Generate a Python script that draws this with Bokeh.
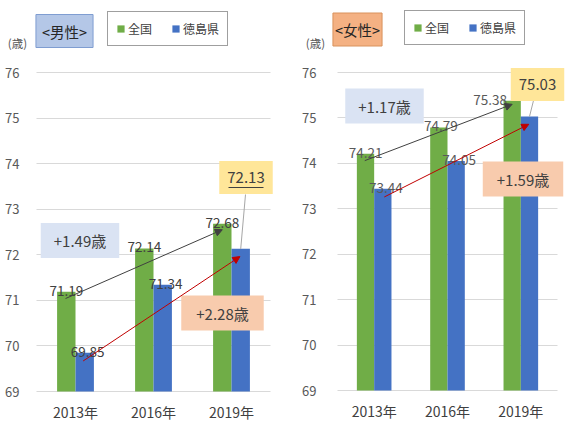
from bokeh.plotting import figure
from bokeh.layouts import row
from bokeh.models import Label, Legend, LegendItem, Arrow, NormalHead, FixedTicker, Range1d
from bokeh.core.properties import value
from bokeh.embed import file_html
from bokeh.resources import INLINE

# ---------------- data ----------------
years = ["2013年", "2016年", "2019年"]
male_national = [71.19, 72.14, 72.68]
male_tokushima = [69.85, 71.34, 72.13]
female_national = [74.21, 74.79, 75.38]
female_tokushima = [73.44, 74.05, 75.03]
y_ticks = [69, 70, 71, 72, 73, 74, 75, 76]
series_names = ["全国", "徳島県"]
unit_text = "(歳)"

# ---------------- style ----------------
FONT = "Noto Sans CJK JP"
GREEN = "#70ad47"
BLUE = "#4472c4"
BW = 0.236
Y_MIN, Y_MAX = 69, 76
PAGE_H = 423


def gain(vals):
    return f"+{vals[-1] - vals[0]:.2f}歳"


def make_panel(nat, tok, header, header_fill, header_line, geo, ann, label_color, nat_dx, ystand):
    left, width, fx0, fx1, fyt, fy69 = geo
    ppu = (fy69 - fyt) / (Y_MAX - Y_MIN)
    pxu = (fx1 - fx0) / 3.0

    def X(px):
        return -0.5 + (px - fx0) / pxu

    def Y(py):
        return Y_MAX - (py - fyt) / ppu

    p = figure(width=width, height=PAGE_H, output_backend="svg", toolbar_location=None,
               x_range=Range1d(X(left), X(left + width)), y_range=Range1d(Y(PAGE_H), Y(0)),
               min_border_left=0, min_border_right=0, min_border_top=0, min_border_bottom=0)
    p.outline_line_color = None
    p.background_fill_color = "white"
    p.border_fill_color = "white"
    p.xgrid.grid_line_color = None
    p.ygrid.grid_line_color = "#d9d9d9"
    p.ygrid.grid_line_width = 1
    p.ygrid.cross_bounds = (-0.5, 2.5)

    p.yaxis.ticker = FixedTicker(ticks=y_ticks)
    p.yaxis.fixed_location = -0.5
    p.yaxis.axis_line_color = None
    p.yaxis.major_tick_line_color = None
    p.yaxis.minor_tick_line_color = None
    p.yaxis.major_label_standoff = ystand
    p.yaxis.major_label_text_font = FONT
    p.yaxis.major_label_text_font_size = "13px"
    p.yaxis.major_label_text_color = "#595959"

    xs = list(range(len(years)))
    p.xaxis.ticker = FixedTicker(ticks=xs)
    p.xaxis.major_label_overrides = {i: years[i] for i in xs}
    p.xaxis.fixed_location = Y_MIN
    p.xaxis.axis_line_color = None
    p.xaxis.major_tick_line_color = None
    p.xaxis.minor_tick_line_color = None
    p.xaxis.major_label_standoff = 4
    p.xaxis.major_label_text_font = FONT
    p.xaxis.major_label_text_font_size = "14px"
    p.xaxis.major_label_text_color = "#404040"

    gx = [i - BW / 2 for i in xs]
    bx = [i + BW / 2 for i in xs]
    g = p.vbar(x=gx, top=nat, bottom=Y_MIN, width=BW, fill_color=GREEN, line_color=None)
    b = p.vbar(x=bx, top=tok, bottom=Y_MIN, width=BW, fill_color=BLUE, line_color=None)

    # data labels
    p.text(x=gx, y=nat, text=[f"{v:.2f}" for v in nat], x_offset=nat_dx, y_offset=-1,
           text_align="center", text_baseline="alphabetic", text_font=value(FONT),
           text_font_size="13.5px", text_color=label_color)
    p.text(x=bx[:-1], y=tok[:-1], text=[f"{v:.2f}" for v in tok[:-1]], x_offset=3, y_offset=-1,
           text_align="center", text_baseline="alphabetic", text_font=value(FONT),
           text_font_size="13.5px", text_color=label_color)

    # leader line from callout box to last prefectural bar
    p.segment(x0=[X(ann["leader"][0])], y0=[Y(ann["leader"][1])], x1=[bx[-1]], y1=[tok[-1]],
              line_color="#a6a6a6", line_width=1)

    def box(cx, cy, text, fill, size, px, py, line=None, color="#404040"):
        p.add_layout(Label(x=X(cx), y=Y(cy), text=text, text_align="center",
                           text_baseline="middle", text_font=FONT,
                           text_font_size=f"{size}px", text_color=color,
                           background_fill_color=fill, border_line_color=line,
                           padding=dict(left=px, right=px, top=py, bottom=py)))

    box(*ann["header"], header, header_fill, 14.5, ann["header_pad"], 6, line=header_line, color="#262626")
    p.add_layout(Label(x=X(ann["unit"][0]), y=Y(ann["unit"][1]), text=unit_text,
                       text_align="center", text_baseline="middle", text_font=FONT,
                       text_font_size="11.5px", text_color="#595959"))
    box(*ann["nat_box"], gain(nat), "#dae3f3", 15, ann["nat_pad"], 7)
    box(*ann["tok_box"], gain(tok), "#f8cbad", 15, ann["tok_pad"], 7)
    box(*ann["callout"], f"{tok[-1]:.2f}", "#ffe699", 15, 8, 11)

    if ann.get("underline"):
        ux0, ux1, uy = ann["underline"]
        p.add_layout(Arrow(x_start=X(ux0), y_start=Y(uy), x_end=X(ux1), y_end=Y(uy),
                           end=None, line_color="#404040", line_width=1))

    # trend arrows
    p.add_layout(Arrow(x_start=gx[0] - 0.01, y_start=nat[0] - 0.15,
                       x_end=gx[-1], y_end=nat[-1] - ann["nat_end_dy"],
                       line_color="#404040", line_width=1,
                       end=NormalHead(size=7, fill_color="#404040", line_color="#404040")))
    p.add_layout(Arrow(x_start=bx[0] - 0.02 + ann["tok_start_dx"], y_start=tok[0] - 0.18,
                       x_end=bx[-1] - 0.01, y_end=tok[-1] - 0.17,
                       line_color="#c00000", line_width=1,
                       end=NormalHead(size=7, fill_color="#c00000", line_color="#c00000")))

    legend = Legend(items=[LegendItem(label=series_names[0], renderers=[g]),
                           LegendItem(label=series_names[1], renderers=[b])],
                    orientation="horizontal",
                    location=(ann["legend"][0] - left, PAGE_H - ann["legend"][1]),
                    padding=8, spacing=19, margin=0, glyph_width=9, glyph_height=9,
                    label_standoff=3, label_height=16,
                    label_text_font=FONT, label_text_font_size="12px",
                    label_text_color="#404040",
                    border_line_color="#404040", border_line_width=1,
                    background_fill_color="white", background_fill_alpha=1)
    p.add_layout(legend)
    return p


male_ann = dict(header=(64, 30.5), header_pad=6, unit=(17, 42),
                nat_box=(79.5, 240), nat_pad=13, tok_box=(222, 312.5), tok_pad=15,
                callout=(245.5, 177), leader=(245, 194), underline=(228, 263, 187),
                legend=(107, 46), nat_end_dy=0.13, tok_start_dx=0.0)
female_ann = dict(header=(357, 29), header_pad=2, unit=(315, 42),
                  nat_box=(384, 105.5), nat_pad=13, tok_box=(522.5, 178.5), tok_pad=14,
                  callout=(537, 84), leader=(533, 100), underline=None,
                  legend=(404, 45), nat_end_dy=0.08, tok_start_dx=0.04)

p1 = make_panel(male_national, male_tokushima, "<男性>", "#b4c7e7", "#7f9dd1",
                (0, 290, 36, 270, 72, 391), male_ann, "#404040", [0, 0, 0], 11)
p2 = make_panel(female_national, female_tokushima, "<女性>", "#f4b183", "#d9925c",
                (290, 284, 337, 557, 72, 390), female_ann, "#595959", [0, 2, -22], 15)

layout = row(p1, p2)
open("out.html", "w").write(file_html(layout, INLINE))
